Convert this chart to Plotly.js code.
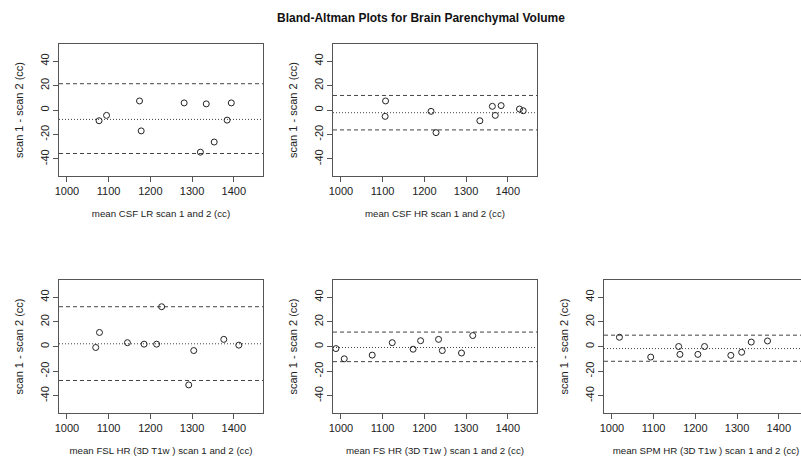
<!DOCTYPE html>
<html>
<head>
<meta charset="utf-8">
<script src="https://cdn.plot.ly/plotly-3.0.1.min.js"></script>
<style>
html, body { margin: 0; padding: 0; overflow: hidden; background: #fff; }
#chart { width: 812px; height: 459px; }
</style>
</head>
<body>
<div id="chart"></div>
<script>
// ---- data ----
const chartTitle = "Bland-Altman Plots for Brain Parenchymal Volume";
const xLabels = [
  "mean CSF LR scan 1 and 2 (cc)",
  "mean CSF HR scan 1 and 2 (cc)",
  "mean FSL HR (3D T1w ) scan 1 and 2 (cc)",
  "mean FS HR (3D T1w ) scan 1 and 2 (cc)",
  "mean SPM HR (3D T1w ) scan 1 and 2 (cc)"
];
const yLabel = "scan 1 - scan 2 (cc)";

const csfLrMean = [1077, 1095, 1174, 1178, 1281, 1334, 1320, 1353, 1384, 1394];
const csfLrDiff = [-8.8, -4.4, 7.4, -17.1, 5.8, 5.0, -34.5, -26.2, -8.3, 5.8];

const csfHrMean = [1107, 1106, 1216, 1228, 1333, 1363, 1370, 1384, 1428, 1437];
const csfHrDiff = [7.4, -5.2, -1.1, -18.5, -8.8, 3.0, -4.4, 3.6, 0.8, -0.6];

const fslMean = [1069, 1078, 1145, 1185, 1215, 1227, 1304, 1292, 1376, 1412];
const fslDiff = [-0.8, 11.4, 3.1, 1.9, 1.9, 32.3, -3.3, -31.2, 5.8, 1.1];

const fsMean = [988, 1008, 1075, 1123, 1173, 1191, 1234, 1243, 1289, 1316];
const fsDiff = [-1.7, -10.0, -7.0, 3.1, -2.2, 4.7, 5.8, -3.3, -5.3, 8.9];

const spmMean = [1018, 1093, 1160, 1163, 1206, 1222, 1285, 1311, 1334, 1373];
const spmDiff = [7.5, -8.6, 0.0, -6.4, -6.4, 0.0, -7.2, -4.7, 3.6, 4.5];

const biasVals  = [-7.7, -2.2, 2.2, -0.8, -1.7];
const upperLoA  = [21.5, 11.9, 32.3, 11.7, 9.2];
const lowerLoA  = [-35.6, -16.3, -27.6, -12.3, -12.0];

const xTicks = [1000, 1100, 1200, 1300, 1400];
const yTicks = [-40, -20, 0, 20, 40];

// ---- layout geometry ----
const W = 812, H = 459;
const xDomPx = [[59, 263], [333, 537], [59, 263], [333, 537], [604, 808]];
const yDomPx = [[44, 176], [44, 176], [280, 413], [280, 413], [280, 413]];
const xRange = [981, 1470];
const yRange = [-54, 54];

const series = [
  [csfLrMean, csfLrDiff],
  [csfHrMean, csfHrDiff],
  [fslMean, fslDiff],
  [fsMean, fsDiff],
  [spmMean, spmDiff]
];

const ink = "#222";
const boxCol = "#555";
const lineCol = "#444";
const font = { family: "Liberation Sans, Arial, sans-serif", size: 11, color: ink };
const titleFont = { family: "Liberation Sans, Arial, sans-serif", size: 9.7, color: ink };

const data = [];
const layout = {
  width: W, height: H,
  margin: { l: 0, r: 0, t: 0, b: 0 },
  paper_bgcolor: "#fff", plot_bgcolor: "#fff",
  showlegend: false,
  font: font,
  title: {
    text: "<b>" + chartTitle + "</b>",
    x: 421 / W, xanchor: "center", xref: "paper",
    y: 1 - 18 / H, yanchor: "middle", yref: "container",
    font: { family: "Liberation Sans, Arial, sans-serif", size: 12, color: "#111" }
  },
  shapes: []
};

series.forEach((s, i) => {
  const n = i + 1;
  const xa = "x" + (n === 1 ? "" : n);
  const ya = "y" + (n === 1 ? "" : n);
  data.push({
    type: "scatter", mode: "markers",
    x: s[0], y: s[1], xaxis: xa, yaxis: ya,
    marker: { symbol: "circle-open", size: 6, color: ink, line: { width: 1, color: ink } },
    hoverinfo: "x+y"
  });
  const xk = "xaxis" + (n === 1 ? "" : n);
  const yk = "yaxis" + (n === 1 ? "" : n);
  layout[xk] = {
    domain: [xDomPx[i][0] / W, xDomPx[i][1] / W],
    anchor: ya, range: xRange, tickvals: xTicks, ticktext: xTicks.map(String),
    showgrid: false, zeroline: false, showline: true, mirror: true,
    linecolor: boxCol, linewidth: 1, ticks: "outside", ticklen: 5, tickcolor: boxCol,
    tickfont: font,
    title: { text: xLabels[i], font: titleFont, standoff: 14 }
  };
  layout[yk] = {
    domain: [1 - yDomPx[i][1] / H, 1 - yDomPx[i][0] / H],
    anchor: xa, range: yRange, tickvals: yTicks, ticktext: yTicks.map(String),
    tickangle: -90,
    showgrid: false, zeroline: false, showline: true, mirror: true,
    linecolor: boxCol, linewidth: 1, ticks: "outside", ticklen: 5, tickcolor: boxCol,
    tickfont: font,
    title: { text: yLabel, font: font, standoff: 12 }
  };
  const hl = (val, dash) => ({
    type: "line", xref: xa + " domain", yref: ya,
    x0: 0, x1: 1, y0: val, y1: val,
    line: { color: lineCol, width: 1, dash: dash }, layer: "below"
  });
  layout.shapes.push(hl(upperLoA[i], "4px,3px"));
  layout.shapes.push(hl(lowerLoA[i], "4px,3px"));
  layout.shapes.push(hl(biasVals[i], "1px,2px"));
});

Plotly.newPlot("chart", data, layout, { displayModeBar: false, staticPlot: true });
</script>
</body>
</html>
